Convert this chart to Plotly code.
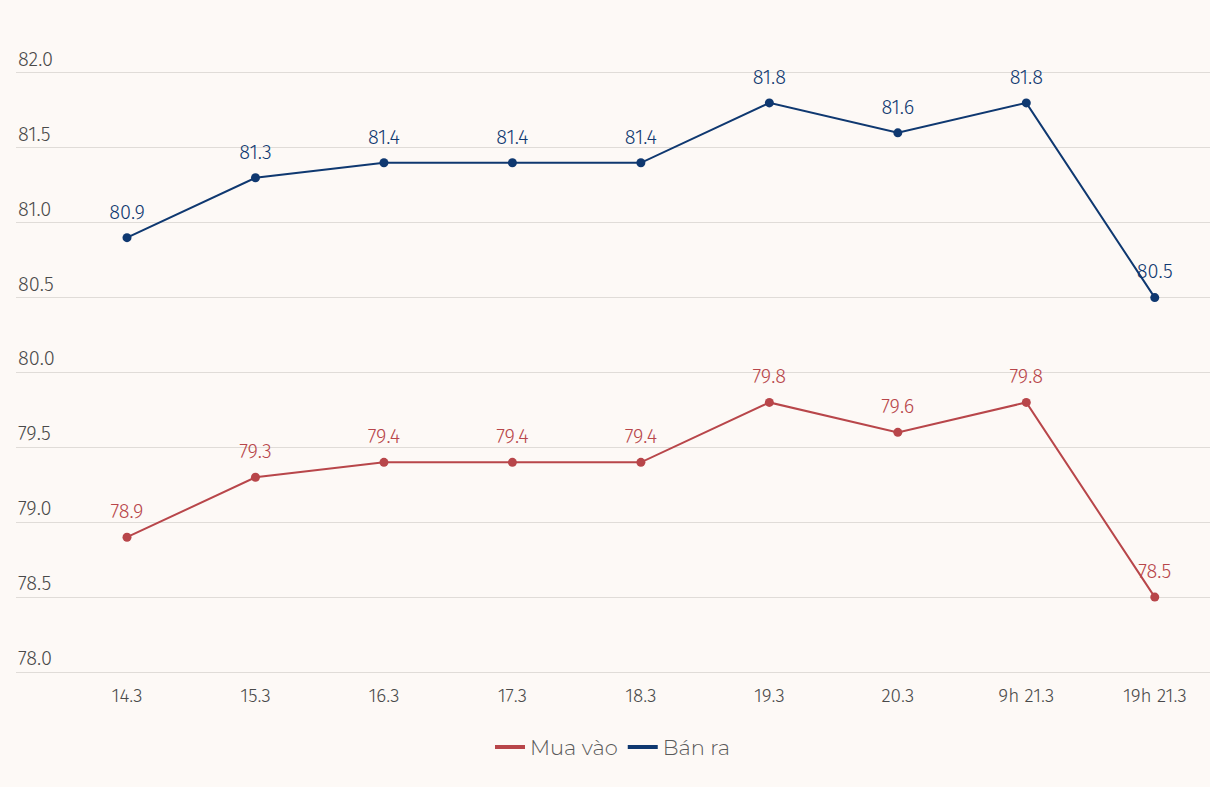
import plotly.graph_objects as go

categories = ["14.3", "15.3", "16.3", "17.3", "18.3", "19.3", "20.3", "9h 21.3", "19h 21.3"]
mua_vao = [78.9, 79.3, 79.4, 79.4, 79.4, 79.8, 79.6, 79.8, 78.5]
ban_ra = [80.9, 81.3, 81.4, 81.4, 81.4, 81.8, 81.6, 81.8, 80.5]
y_ticks = [78.0, 78.5, 79.0, 79.5, 80.0, 80.5, 81.0, 81.5, 82.0]

RED = "#b8464a"
BLUE = "#0f3870"
BG = "#fdf9f6"
GRID = "#e0dcd8"
FONT = "Fira Sans, Open Sans, sans-serif"

fig = go.Figure()
for name, vals, col in [("Mua vào", mua_vao, RED), ("Bán ra", ban_ra, BLUE)]:
    fig.add_trace(go.Scatter(
        x=categories, y=vals, name=name, mode="lines+markers", showlegend=False,
        legendgroup=name,
        line=dict(color=col, width=2), marker=dict(size=9, color=col),
    ))
    # labels (transparent larger marker pushes text up)
    fig.add_trace(go.Scatter(
        x=categories, y=vals, mode="markers+text", showlegend=False, hoverinfo="skip",
        marker=dict(size=21, color="rgba(0,0,0,0)"),
        text=[f"{v:.1f}" for v in vals], textposition="top center",
        textfont=dict(color=col, size=20, family=FONT, weight=300),
    ))
for name, col in [("Mua vào", RED), ("Bán ra", BLUE)]:
    fig.add_trace(go.Scatter(
        x=[None], y=[None], name=name, mode="lines", legendgroup=name,
        line=dict(color=col, width=4),
    ))

annotations = [
    dict(x=0, xref="paper", xanchor="left", y=v, yref="y", yanchor="bottom", yshift=0,
         text=f"{v:.1f}", showarrow=False,
         font=dict(size=20, color="#4a4a4a", family=FONT, weight=300))
    for v in y_ticks
]

fig.update_layout(
    width=1210, height=787,
    paper_bgcolor=BG, plot_bgcolor=BG,
    margin=dict(l=16, r=0, t=28, b=115),
    showlegend=True,
    annotations=annotations,
    legend=dict(orientation="h", x=0.5, xanchor="center", y=-0.085, yanchor="top",
                font=dict(size=21, color="#5a5a5a", family="Montserrat, Lato, Open Sans", weight=300),
                itemwidth=30),
    xaxis=dict(type="category", range=[-0.864, 8.43], showgrid=False, zeroline=False,
               showline=True, linecolor=GRID, linewidth=1.2, ticks="", ticklabelstandoff=6,
               tickfont=dict(size=19, color="#4a4a4a", family=FONT, weight=300)),
    yaxis=dict(range=[78.0, 82.3], tickvals=y_ticks, showticklabels=False,
               showgrid=True, gridcolor=GRID, gridwidth=1.2, zeroline=False),
)

fig.write_html("out.html", config={"displayModeBar": False}, post_script=(
    "document.body.style.margin='0';document.body.style.padding='0';"
    "document.body.style.background='" + BG + "';"
))
